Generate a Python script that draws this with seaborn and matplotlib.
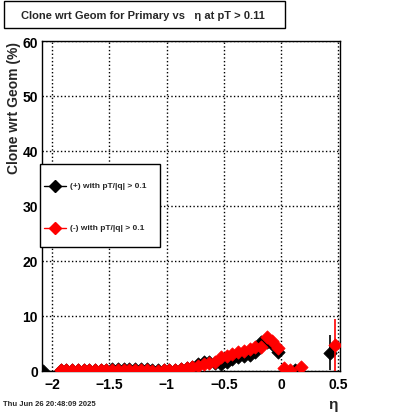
import numpy as np
import seaborn as sns
import matplotlib.pyplot as plt
from matplotlib.lines import Line2D
from matplotlib.patches import Rectangle
from matplotlib.ticker import MultipleLocator, FuncFormatter

# eta bin centres and clone rate (%) for the two charge samples
eta_pos = [-2.075,
           -1.925, -1.875, -1.825, -1.775, -1.725, -1.675, -1.625, -1.575, -1.525, -1.475,
           -1.425, -1.375, -1.325, -1.275, -1.225, -1.175, -1.125, -1.075, -1.025, -0.975,
           -0.925, -0.875, -0.825, -0.775, -0.725, -0.675, -0.625, -0.575, -0.525, -0.475,
           -0.425, -0.375, -0.325, -0.275, -0.225, -0.175, -0.125, -0.075, -0.025,
           0.125, 0.425]
clone_pos = [0.0,
             0.1, 0.1, 0.1, 0.1, 0.1, 0.15, 0.2, 0.2, 0.25, 0.3,
             0.3, 0.3, 0.35, 0.3, 0.3, 0.3, 0.25, 0.2, 0.2, 0.15,
             0.25, 0.35, 0.5, 0.8, 1.2, 1.7, 1.6, 1.5, 1.3, 1.6,
             2.2, 2.6, 2.8, 3.0, 3.4, 5.2, 5.3, 4.9, 3.5,
             0.2, 3.3]
err_pos = [0.0] * 41 + [3.2]

eta_neg = [-1.925, -1.875, -1.825, -1.775, -1.725, -1.675, -1.625, -1.575, -1.525, -1.475,
           -1.425, -1.375, -1.325, -1.275, -1.225, -1.175, -1.125, -1.075, -1.025, -0.975,
           -0.925, -0.875, -0.825, -0.775, -0.725, -0.675, -0.625, -0.575, -0.525, -0.475,
           -0.425, -0.375, -0.325, -0.275, -0.225, -0.175, -0.125, -0.075, -0.025,
           0.025, 0.075, 0.175, 0.475]
clone_neg = [0.1, 0.1, 0.1, 0.1, 0.1, 0.1, 0.15, 0.1, 0.15, 0.15,
             0.1, 0.15, 0.1, 0.15, 0.1, 0.1, 0.05, 0.05, 0.1, 0.1,
             0.2, 0.35, 0.5, 0.8, 1.0, 1.2, 1.4, 1.6, 2.6, 2.8,
             3.1, 3.4, 3.7, 4.0, 4.3, 4.4, 6.2, 5.5, 4.1,
             0.6, 0.2, 0.8, 4.7]
err_neg = [0.0] * 42 + [4.8]

W, H = 400, 414


def fx(x):
    return x / W


def fy(y):
    return 1 - y / H


sns.set_style("white")
plt.rcParams['font.family'] = ['Liberation Sans', 'DejaVu Sans']
plt.rcParams['font.weight'] = 'bold'

fig = plt.figure(figsize=(W / 100, H / 100), dpi=100)
ax = fig.add_axes([fx(42), fy(372), 298 / W, 330 / H])

ax.errorbar(eta_pos, clone_pos, yerr=err_pos, fmt='none', ecolor='black', elinewidth=1.2, zorder=2)
sns.scatterplot(x=eta_pos, y=clone_pos, ax=ax, marker='D', s=46, color='black',
                edgecolor='black', linewidth=0.5, zorder=3, legend=False)
ax.errorbar(eta_neg, clone_neg, yerr=err_neg, fmt='none', ecolor='red', elinewidth=1.2, zorder=4)
sns.scatterplot(x=eta_neg, y=clone_neg, ax=ax, marker='D', s=46, color='red',
                edgecolor='red', linewidth=0.5, zorder=5, legend=False)

ax.set_xlim(-2.088, 0.515)
ax.set_ylim(0, 60)
ax.xaxis.set_major_locator(MultipleLocator(0.5))
ax.xaxis.set_minor_locator(MultipleLocator(0.1))
ax.yaxis.set_major_locator(MultipleLocator(10))
ax.yaxis.set_minor_locator(MultipleLocator(2))
ax.xaxis.set_major_formatter(FuncFormatter(lambda v, p: ('%g' % v).replace('-', '\u2212')))
ax.tick_params(which='both', direction='in', top=False, right=False, width=1, colors='black')
ax.tick_params(which='major', length=9, labelsize=10, pad=4)
ax.tick_params(axis='y', which='major', pad=3)
ax.tick_params(which='minor', length=5)
ax.grid(True, which='major', linestyle=':', color='black', linewidth=1)
for sp in ax.spines.values():
    sp.set_color('black')
    sp.set_linewidth(1)
ax.set_xlabel('')
ax.set_ylabel('')

fig.text(fx(14), fy(42), 'Clone wrt Geom (%)', rotation=90, ha='center', va='top',
         fontsize=10, fontweight='bold')
fig.text(fx(333), fy(405), 'η', ha='center', va='center', fontsize=11)
fig.text(fx(3), fy(405), 'Thu Jun 26 20:48:09 2025', ha='left', va='center', fontsize=5.5,
         fontweight='bold')

# title box
fig.add_artist(Rectangle((fx(4), fy(29)), (285 - 4) / W, 27 / H, transform=fig.transFigure,
                         facecolor='white', edgecolor='black', linewidth=1))
fig.text(fx(143), fy(16), 'Clone wrt Geom for Primary vs   η at pT > 0.11', ha='center',
         va='center', fontsize=8, fontweight='bold')

# legend box
fig.add_artist(Rectangle((fx(40), fy(248)), 120 / W, 83 / H, transform=fig.transFigure,
                         facecolor='white', edgecolor='black', linewidth=1, zorder=10))
for ypix, col, lab in [(187, 'black', '(+) with pT/|q| > 0.1'),
                       (229, 'red', '(-) with pT/|q| > 0.1')]:
    fig.add_artist(Line2D([fx(44), fx(66)], [fy(ypix), fy(ypix)], transform=fig.transFigure,
                          color=col, linewidth=1, zorder=11))
    fig.add_artist(Line2D([fx(55)], [fy(ypix)], transform=fig.transFigure, marker='D',
                          markersize=6.5, color=col, linestyle='none', zorder=12))
    t = fig.text(fx(70), fy(ypix), lab, ha='left', va='center', fontsize=6, fontweight='bold')
    t.set_zorder(12)

fig.savefig('out.png', dpi=100, facecolor='white')
